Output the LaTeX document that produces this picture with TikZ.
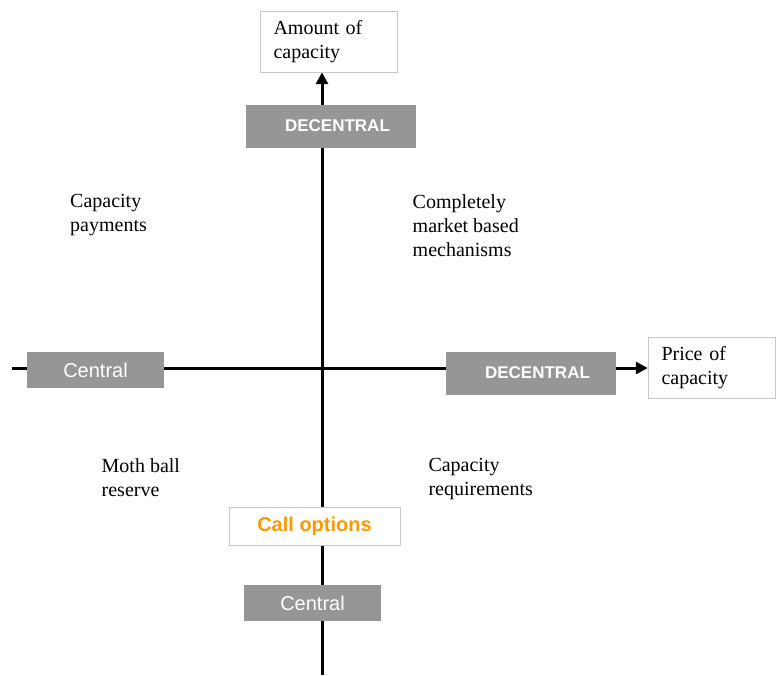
\documentclass[tikz,border=0pt]{standalone}
\usepackage{fontspec}
\setmainfont{Liberation Serif}
\setsansfont{Liberation Sans}
\usetikzlibrary{arrows.meta,backgrounds}

\definecolor{boxgray}{RGB}{150,150,150}
\definecolor{framegray}{RGB}{200,200,200}
\definecolor{callorange}{RGB}{255,153,0}

\tikzset{
    axis/.style={line width=3pt, -{Triangle[length=12pt,width=12pt]}},
    axisbox/.style={draw=framegray, fill=white, align=left, inner xsep=13.5pt, inner ysep=0pt,
        minimum height=61pt, font=\fontsize{20}{24}\selectfont},
    graybox/.style={fill=boxgray, text=white, inner sep=0pt, minimum width=137pt, minimum height=36pt,
        font=\sffamily\fontsize{20}{24}\selectfont},
    decbox/.style={graybox, minimum width=170pt, minimum height=43pt,
        font=\sffamily\bfseries\fontsize{17}{20}\selectfont},
    quadlabel/.style={anchor=north west, align=left, inner sep=0pt, font=\fontsize{20}{24}\selectfont}
}

\begin{document}
\begin{tikzpicture}[x=1pt,y=-1pt]
    \useasboundingbox (0,0) rectangle (776,675);

    % axis end labels
    \node[axisbox, text width=110pt] (amount) at (328.5,41.5) {Amount of\\capacity};
    \node[axisbox, text width=100pt] (price) at (711.5,367.5) {Price of\\capacity};

    % free ends of the axes
    \coordinate (vbottom) at (322,675);
    \coordinate (hleft) at (12,368);

    % boxes on the axes
    \node[decbox] (dectop) at (330.5,126) {\hspace*{14pt}DECENTRAL};
    \node[decbox] (decright) at (530.5,373) {\hspace*{14pt}DECENTRAL};
    \node[graybox] (centralleft) at (95.5,370) {Central};
    \node[graybox] (centralbottom) at (312.5,603) {Central};
    \node[draw=framegray, fill=white, minimum width=171pt, minimum height=38pt, inner sep=0pt,
        text=callorange, font=\sffamily\bfseries\fontsize{20}{24}\selectfont] (calls) at (314.5,526) {Call options};

    % quadrant texts
    \node[quadlabel] (payments) at (70,194.5) {Capacity\\payments};
    \node[quadlabel] (market) at (412.5,194.3) {Completely\\market based\\mechanisms};
    \node[quadlabel] (mothball) at (101.5,458.3) {Moth ball\\reserve};
    \node[quadlabel] (requirements) at (428.3,458.5) {Capacity\\requirements};

    \begin{scope}[on background layer]
        \draw[axis] (vbottom) -- (vbottom |- amount.south);
        \draw[axis] (hleft) -- (hleft -| price.west);
    \end{scope}
\end{tikzpicture}
\end{document}
